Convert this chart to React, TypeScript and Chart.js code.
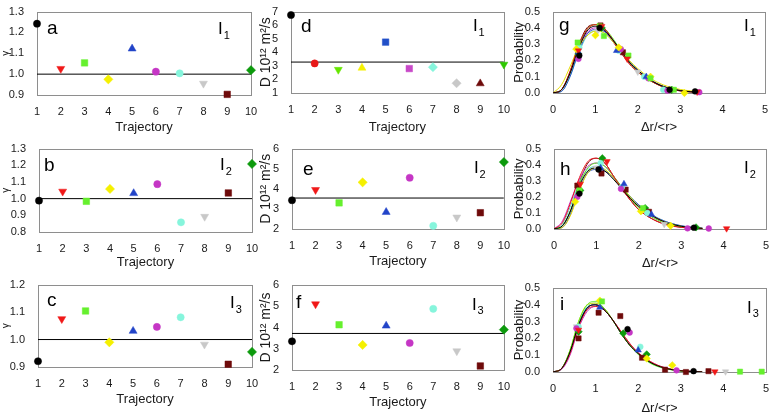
import { useEffect, useRef } from "react";
import { Chart, registerables } from "chart.js";

Chart.register(...registerables);

const FONT = "'Liberation Sans', Arial, sans-serif";

// trajectory panels (a-f)
const trajectories = [1, 2, 3, 4, 5, 6, 7, 8, 9, 10];
const gammaI1 = [1.242, 1.026, 1.054, 0.975, 1.122, 1.012, 1.004, 0.955, 0.903, 1.019];
const gammaI2 = [0.988, 1.043, 0.984, 1.058, 1.032, 1.087, 0.858, 0.892, 1.034, 1.208];
const gammaI3 = [0.921, 1.075, 1.104, 0.99, 1.031, 1.046, 1.081, 0.982, 0.91, 0.955];
const diffI1 = [6.75, 3.18, 2.72, 2.85, 4.75, 2.8, 2.9, 1.72, 1.7, 3.1];
const diffI2 = [3.43, 3.95, 3.3, 4.32, 2.84, 4.55, 2.16, 2.58, 2.81, 5.33];
const diffI3 = [3.35, 5.1, 4.13, 3.18, 4.08, 3.27, 4.88, 2.89, 2.19, 3.9];
const gammaMean = [1.0, 1.0, 1.0];
const diffMean = [3.28, 3.54, 3.72];

const gammaTicks = { I1: [0.9, 1.3], I2: [0.8, 1.3], I3: [0.9, 1.2] };
const diffTicks = { I1: [1, 7], I2: [2, 6], I3: [2, 6] };

// distribution panels (g-i)
const distX = [0, 0.2, 0.4, 0.6, 0.8, 1.0, 1.2, 1.4, 1.6, 1.8, 2.0, 2.3, 2.6, 3.0, 3.5];

const gCurves = [
  [0, 0.02, 0.12, 0.27, 0.38, 0.41, 0.39, 0.33, 0.26, 0.19, 0.14, 0.08, 0.04, 0.015, 0.003],
  [0, 0.02, 0.13, 0.29, 0.39, 0.42, 0.4, 0.33, 0.25, 0.18, 0.13, 0.075, 0.038, 0.013, 0.003],
  [0, 0.02, 0.12, 0.28, 0.39, 0.42, 0.4, 0.34, 0.26, 0.19, 0.13, 0.075, 0.04, 0.014, 0.003],
  [0, 0.05, 0.16, 0.28, 0.35, 0.38, 0.37, 0.32, 0.26, 0.2, 0.15, 0.09, 0.05, 0.022, 0.006],
  [0, 0.01, 0.1, 0.25, 0.36, 0.39, 0.38, 0.33, 0.26, 0.19, 0.14, 0.08, 0.042, 0.016, 0.004],
  [0, 0.02, 0.12, 0.27, 0.37, 0.4, 0.38, 0.33, 0.26, 0.19, 0.14, 0.08, 0.04, 0.016, 0.004],
  [0, 0.01, 0.1, 0.24, 0.35, 0.38, 0.37, 0.32, 0.26, 0.2, 0.14, 0.08, 0.04, 0.015, 0.003],
  [0, 0.02, 0.13, 0.29, 0.4, 0.42, 0.39, 0.32, 0.25, 0.18, 0.13, 0.075, 0.037, 0.013, 0.003],
];
const hCurves = [
  [0, 0.02, 0.12, 0.27, 0.36, 0.38, 0.36, 0.31, 0.25, 0.19, 0.14, 0.085, 0.045, 0.017, 0.004],
  [0, 0.04, 0.17, 0.32, 0.42, 0.44, 0.41, 0.33, 0.25, 0.18, 0.12, 0.065, 0.03, 0.01, 0.002],
  [0, 0.02, 0.12, 0.28, 0.38, 0.41, 0.39, 0.33, 0.26, 0.19, 0.13, 0.075, 0.038, 0.014, 0.003],
  [0, 0.01, 0.09, 0.24, 0.35, 0.38, 0.37, 0.32, 0.26, 0.2, 0.14, 0.085, 0.045, 0.017, 0.004],
  [0, 0.01, 0.1, 0.25, 0.35, 0.37, 0.36, 0.32, 0.26, 0.2, 0.15, 0.09, 0.05, 0.02, 0.005],
  [0, 0.05, 0.18, 0.31, 0.39, 0.41, 0.39, 0.33, 0.26, 0.19, 0.14, 0.08, 0.045, 0.018, 0.005],
  [0, 0.03, 0.15, 0.29, 0.37, 0.39, 0.37, 0.32, 0.26, 0.2, 0.15, 0.09, 0.05, 0.02, 0.006],
  [0, 0.02, 0.12, 0.29, 0.41, 0.44, 0.41, 0.33, 0.25, 0.18, 0.12, 0.065, 0.032, 0.011, 0.002],
];
const iCurves = [
  [0, 0.02, 0.12, 0.28, 0.38, 0.4, 0.37, 0.31, 0.23, 0.16, 0.11, 0.055, 0.025, 0.007, 0.001],
  [0, 0.02, 0.11, 0.27, 0.37, 0.39, 0.37, 0.31, 0.24, 0.17, 0.115, 0.06, 0.027, 0.008, 0.001],
  [0, 0.02, 0.13, 0.3, 0.4, 0.42, 0.38, 0.31, 0.23, 0.16, 0.105, 0.05, 0.022, 0.006, 0.001],
  [0, 0.02, 0.13, 0.3, 0.4, 0.41, 0.38, 0.31, 0.23, 0.16, 0.11, 0.055, 0.025, 0.007, 0.001],
  [0, 0.02, 0.12, 0.28, 0.38, 0.4, 0.37, 0.31, 0.23, 0.16, 0.11, 0.055, 0.025, 0.007, 0.001],
  [0, 0.015, 0.1, 0.26, 0.36, 0.39, 0.37, 0.31, 0.24, 0.17, 0.115, 0.06, 0.028, 0.009, 0.002],
  [0, 0.02, 0.12, 0.29, 0.39, 0.41, 0.38, 0.31, 0.23, 0.165, 0.11, 0.055, 0.025, 0.007, 0.001],
  [0, 0.02, 0.12, 0.28, 0.38, 0.4, 0.375, 0.31, 0.23, 0.16, 0.11, 0.055, 0.024, 0.007, 0.001],
];
const curveColors = ["#000000", "#e8141c", "#5ee62a", "#e6dc00", "#2a4cc8", "#c534c5", "#5ed8c8", "#7a0c0c"];

// measured points, one list per trajectory
const gPoints: number[][][] = [
  [[0.62, 0.23], [1.1, 0.4], [2.75, 0.02], [3.35, 0.01]],
  [[0.6, 0.26], [1.15, 0.41], [1.75, 0.21], [3.4, 0.007]],
  [[0.58, 0.31], [1.1, 0.41], [1.2, 0.35], [1.78, 0.23], [2.3, 0.09], [2.85, 0.02]],
  [[0.55, 0.27], [1.0, 0.355], [1.55, 0.28], [2.3, 0.1], [3.1, 0.0]],
  [[0.6, 0.25], [1.5, 0.26], [2.2, 0.1]],
  [[0.6, 0.21], [1.6, 0.27], [2.25, 0.09], [2.7, 0.015], [3.45, 0.005]],
  [[0.62, 0.28], [1.55, 0.26], [2.15, 0.1], [2.6, 0.02]],
  [[1.05, 0.38], [2.0, 0.13]],
  [[1.12, 0.415], [1.65, 0.25]],
  [[0.6, 0.24], [1.15, 0.4], [2.8, 0.02]],
];
const hPoints: number[][][] = [
  [[0.6, 0.22], [1.05, 0.37], [3.3, 0.008]],
  [[0.62, 0.28], [1.25, 0.42], [4.07, 0.003]],
  [[0.6, 0.24], [2.1, 0.13]],
  [[0.5, 0.17], [2.05, 0.11], [2.75, 0.02]],
  [[1.65, 0.28], [1.1, 0.38], [2.3, 0.09]],
  [[0.55, 0.2], [1.58, 0.25], [3.15, 0.004], [3.65, 0.003]],
  [[1.1, 0.41], [1.6, 0.26], [2.2, 0.1]],
  [[1.0, 0.38], [2.6, 0.03]],
  [[0.55, 0.27], [1.12, 0.345], [1.69, 0.245], [2.24, 0.107]],
  [[1.14, 0.44], [0.62, 0.24], [2.15, 0.13], [3.35, 0.01]],
];
const iPoints: number[][][] = [
  [[1.75, 0.255], [3.3, 0.005]],
  [[0.6, 0.25], [3.8, 0.002]],
  [[4.39, 0.002], [4.9, 0.002], [1.15, 0.42]],
  [[1.1, 0.425], [2.2, 0.08], [2.8, 0.04]],
  [[1.1, 0.385], [2.0, 0.13]],
  [[1.8, 0.235], [0.55, 0.26], [2.9, 0.01]],
  [[2.05, 0.15], [0.6, 0.27]],
  [[0.55, 0.27], [4.05, 0.002]],
  [[0.6, 0.2], [1.07, 0.353], [1.58, 0.333], [2.09, 0.085], [2.63, 0.014], [3.12, 0.0], [3.65, 0.005]],
  [[1.65, 0.23], [2.2, 0.105], [0.6, 0.24]],
];

type Marker = { color: string; style: string; rotation: number };

const markersA: Marker[] = [
  { color: "#000000", style: "circle", rotation: 0 },
  { color: "#f01818", style: "triangle", rotation: 180 },
  { color: "#66f02e", style: "rect", rotation: 0 },
  { color: "#f5f000", style: "rectRot", rotation: 0 },
  { color: "#2244c8", style: "triangle", rotation: 0 },
  { color: "#c536c5", style: "circle", rotation: 0 },
  { color: "#86f5dc", style: "circle", rotation: 0 },
  { color: "#c8c8c8", style: "triangle", rotation: 180 },
  { color: "#6e0a0a", style: "rect", rotation: 0 },
  { color: "#0c9a0c", style: "rectRot", rotation: 0 },
];
const markersD: Marker[] = [
  { color: "#000000", style: "circle", rotation: 0 },
  { color: "#e81818", style: "circle", rotation: 0 },
  { color: "#66e600", style: "triangle", rotation: 180 },
  { color: "#f5f000", style: "triangle", rotation: 0 },
  { color: "#2250c8", style: "rect", rotation: 0 },
  { color: "#c848c8", style: "rect", rotation: 0 },
  { color: "#86f5dc", style: "rectRot", rotation: 0 },
  { color: "#c8c8c8", style: "rectRot", rotation: 0 },
  { color: "#6e0a0a", style: "triangle", rotation: 0 },
  { color: "#2ec800", style: "triangle", rotation: 180 },
];

const markerRadius = (m: Marker) => (m.style === "circle" ? 3.6 : 4.6);

const decorPlugin = {
  id: "panelDecor",
  beforeDatasetsDraw(chart: any) {
    const { ctx, chartArea: a } = chart;
    ctx.save();
    ctx.strokeStyle = "#8e8e8e";
    ctx.lineWidth = 1;
    ctx.strokeRect(Math.round(a.left) + 0.5, Math.round(a.top) + 0.5, Math.round(a.right - a.left), Math.round(a.bottom - a.top));
    ctx.restore();
  },
  afterDatasetsDraw(chart: any, _args: any, o: any) {
    const { ctx, chartArea: a } = chart;
    ctx.save();
    ctx.fillStyle = "#000";
    ctx.textBaseline = "middle";
    ctx.textAlign = "left";
    ctx.font = `19px ${FONT}`;
    ctx.fillText(o.letter, a.left + o.letterDx, a.top + o.letterDy);
    ctx.font = `17px ${FONT}`;
    const ix = a.right + o.subDx;
    const iy = a.top + o.subDy;
    ctx.fillText("I", ix, iy);
    const w = ctx.measureText("I").width;
    ctx.font = `11px ${FONT}`;
    ctx.fillText(o.sub, ix + w + 1, iy + 6);
    ctx.restore();
  },
};

type PanelProps = {
  left: number;
  top: number;
  width: number;
  height: number;
  area: number[]; // l, t, r, b in page coords
  datasets: any[];
  xRange: number[];
  yRange: number[];
  yStep: number;
  yDigits: number;
  xTitle: string;
  xTitleGap: number;
  yTitle: string;
  yTitleSize: number;
  yTitleShift: number;
  decor: any;
};

function Panel(p: PanelProps) {
  const canvasRef = useRef<HTMLCanvasElement>(null);

  useEffect(() => {
    if (!canvasRef.current) return;
    const yW = p.area[0] - p.left;
    const padTop = p.area[1] - p.top;
    const padRight = p.left + p.width - p.area[2];
    const xH = p.top + p.height - p.area[3];

    const chart = new Chart(canvasRef.current, {
      type: "scatter",
      data: { datasets: p.datasets },
      plugins: [decorPlugin],
      options: {
        animation: false,
        responsive: false,
        layout: { padding: { top: padTop, right: padRight, left: 0, bottom: 0 } },
        plugins: {
          legend: { display: false },
          tooltip: { enabled: false },
          panelDecor: p.decor,
        } as any,
        scales: {
          x: {
            type: "linear",
            min: p.xRange[0],
            max: p.xRange[1],
            grid: { display: false },
            border: { display: false },
            ticks: {
              stepSize: 1,
              padding: 2,
              autoSkip: false,
              maxRotation: 0,
              color: "#1a1a1a",
              font: { family: FONT, size: 11 },
              callback: (v: any) => String(v),
            },
            title: {
              display: true,
              text: p.xTitle,
              color: "#1a1a1a",
              font: { family: FONT, size: 13 },
              padding: { top: 0, bottom: p.xTitleGap },
            },
            afterFit: (s: any) => {
              s.height = xH;
            },
          },
          y: {
            type: "linear",
            min: p.yRange[0],
            max: p.yRange[1],
            grid: { display: false },
            border: { display: false },
            ticks: {
              stepSize: p.yStep,
              padding: 5,
              autoSkip: false,
              color: "#1a1a1a",
              font: { family: FONT, size: 11 },
              callback: (v: any) => Number(v).toFixed(p.yDigits),
            },
            title: {
              display: true,
              text: p.yTitle,
              color: "#1a1a1a",
              font: { family: FONT, size: p.yTitleSize },
              padding: { top: p.yTitleShift, bottom: 0 },
            },
            afterFit: (s: any) => {
              s.width = yW;
            },
          },
        },
      },
    });

    return () => {
      chart.destroy();
    };
  }, []);

  return (
    <canvas
      ref={canvasRef}
      width={p.width}
      height={p.height}
      style={{ position: "absolute", left: p.left, top: p.top, width: p.width, height: p.height }}
    />
  );
}

function trajectorySets(values: number[], mean: number, markers: Marker[]) {
  return [
    {
      data: trajectories.map((t, i) => ({ x: t, y: values[i] })),
      showLine: false,
      clip: false,
      pointStyle: markers.map((m) => m.style),
      pointRotation: markers.map((m) => m.rotation),
      pointRadius: markers.map(markerRadius),
      pointBackgroundColor: markers.map((m) => m.color),
      pointBorderColor: markers.map((m) => m.color),
      pointBorderWidth: 0.5,
    },
    {
      data: [
        { x: trajectories[0], y: mean },
        { x: trajectories[trajectories.length - 1], y: mean },
      ],
      showLine: true,
      borderColor: "#000",
      borderWidth: 1,
      pointRadius: 0,
    },
  ];
}

function distributionSets(curves: number[][], points: number[][][]) {
  const pointSets = points.map((pts, k) => ({
    data: pts.map(([x, y]) => ({ x, y })),
    showLine: false,
    clip: false,
    pointStyle: markersA[k].style,
    pointRotation: markersA[k].rotation,
    pointRadius: markersA[k].style === "circle" ? 2.9 : 3.7,
    pointBackgroundColor: markersA[k].color,
    pointBorderColor: markersA[k].color,
    pointBorderWidth: 0.5,
  }));
  const curveSets = curves.map((c, k) => ({
    data: distX.map((x, i) => ({ x, y: c[i] })),
    showLine: true,
    borderColor: curveColors[k],
    borderWidth: 1,
    pointRadius: 0,
    cubicInterpolationMode: "monotone",
  }));
  return [...pointSets, ...curveSets];
}

const yD = "D 10\u00b9\u00b2 m\u00b2/s";
const xDist = "\u0394r/<r>";

export default function App() {
  return (
    <div style={{ position: "absolute", left: 0, top: 0, width: 774, height: 413, background: "#fff", overflow: "hidden" }}>
      {/* row 1 */}
      <Panel left={0} top={0} width={262} height={137} area={[37, 10, 251, 95]}
        datasets={trajectorySets(gammaI1, gammaMean[0], markersA)}
        xRange={[1, 10]} yRange={gammaTicks.I1} yStep={0.1} yDigits={1}
        xTitle="Trajectory" xTitleGap={2} yTitle="γ" yTitleSize={10} yTitleShift={0}
        decor={{ letter: "a", letterDx: 10, letterDy: 17, sub: "1", subDx: -33, subDy: 18 }} />
      <Panel left={254} top={0} width={258} height={137} area={[291, 10, 506, 93]}
        datasets={trajectorySets(diffI1, diffMean[0], markersD)}
        xRange={[1, 10]} yRange={diffTicks.I1} yStep={1} yDigits={0}
        xTitle="Trajectory" xTitleGap={2} yTitle={yD} yTitleSize={14} yTitleShift={4}
        decor={{ letter: "d", letterDx: 10, letterDy: 15, sub: "1", subDx: -31, subDy: 15 }} />
      <Panel left={512} top={0} width={262} height={137} area={[553, 10, 765, 93]}
        datasets={distributionSets(gCurves, gPoints)}
        xRange={[0, 5]} yRange={[0, 0.5]} yStep={0.1} yDigits={1}
        xTitle={xDist} xTitleGap={2} yTitle="Probability" yTitleSize={13} yTitleShift={0}
        decor={{ letter: "g", letterDx: 6, letterDy: 14, sub: "1", subDx: -21, subDy: 15 }} />

      {/* row 2 */}
      <Panel left={0} top={137} width={262} height={136} area={[39, 146, 252, 232]}
        datasets={trajectorySets(gammaI2, gammaMean[1], markersA)}
        xRange={[1, 10]} yRange={gammaTicks.I2} yStep={0.1} yDigits={1}
        xTitle="Trajectory" xTitleGap={3} yTitle="γ" yTitleSize={10} yTitleShift={0}
        decor={{ letter: "b", letterDx: 5, letterDy: 17, sub: "2", subDx: -32, subDy: 17 }} />
      <Panel left={254} top={137} width={258} height={136} area={[292, 143, 507, 229]}
        datasets={trajectorySets(diffI2, diffMean[1], markersA)}
        xRange={[1, 10]} yRange={diffTicks.I2} yStep={1} yDigits={0}
        xTitle="Trajectory" xTitleGap={4} yTitle={yD} yTitleSize={14} yTitleShift={4}
        decor={{ letter: "e", letterDx: 11, letterDy: 21, sub: "2", subDx: -30, subDy: 20 }} />
      <Panel left={512} top={137} width={262} height={136} area={[554, 143, 766, 229]}
        datasets={distributionSets(hCurves, hPoints)}
        xRange={[0, 5]} yRange={[0, 0.5]} yStep={0.1} yDigits={1}
        xTitle={xDist} xTitleGap={2} yTitle="Probability" yTitleSize={13} yTitleShift={0}
        decor={{ letter: "h", letterDx: 6, letterDy: 21, sub: "2", subDx: -22, subDy: 20 }} />

      {/* row 3 */}
      <Panel left={0} top={273} width={262} height={140} area={[38, 282, 252, 367]}
        datasets={trajectorySets(gammaI3, gammaMean[2], markersA)}
        xRange={[1, 10]} yRange={gammaTicks.I3} yStep={0.1} yDigits={1}
        xTitle="Trajectory" xTitleGap={6} yTitle="γ" yTitleSize={10} yTitleShift={0}
        decor={{ letter: "c", letterDx: 9, letterDy: 16, sub: "3", subDx: -22, subDy: 19 }} />
      <Panel left={254} top={273} width={258} height={140} area={[292, 285, 507, 370]}
        datasets={trajectorySets(diffI3, diffMean[2], markersA)}
        xRange={[1, 10]} yRange={diffTicks.I3} yStep={1} yDigits={0}
        xTitle="Trajectory" xTitleGap={3} yTitle={yD} yTitleSize={14} yTitleShift={4}
        decor={{ letter: "f", letterDx: 4, letterDy: 18, sub: "3", subDx: -32, subDy: 20 }} />
      <Panel left={512} top={273} width={262} height={140} area={[553, 288, 766, 372]}
        datasets={distributionSets(iCurves, iPoints)}
        xRange={[0, 5]} yRange={[0, 0.5]} yStep={0.1} yDigits={1}
        xTitle={xDist} xTitleGap={-3} yTitle="Probability" yTitleSize={13} yTitleShift={0}
        decor={{ letter: "i", letterDx: 7, letterDy: 17, sub: "3", subDx: -19, subDy: 20 }} />
    </div>
  );
}
